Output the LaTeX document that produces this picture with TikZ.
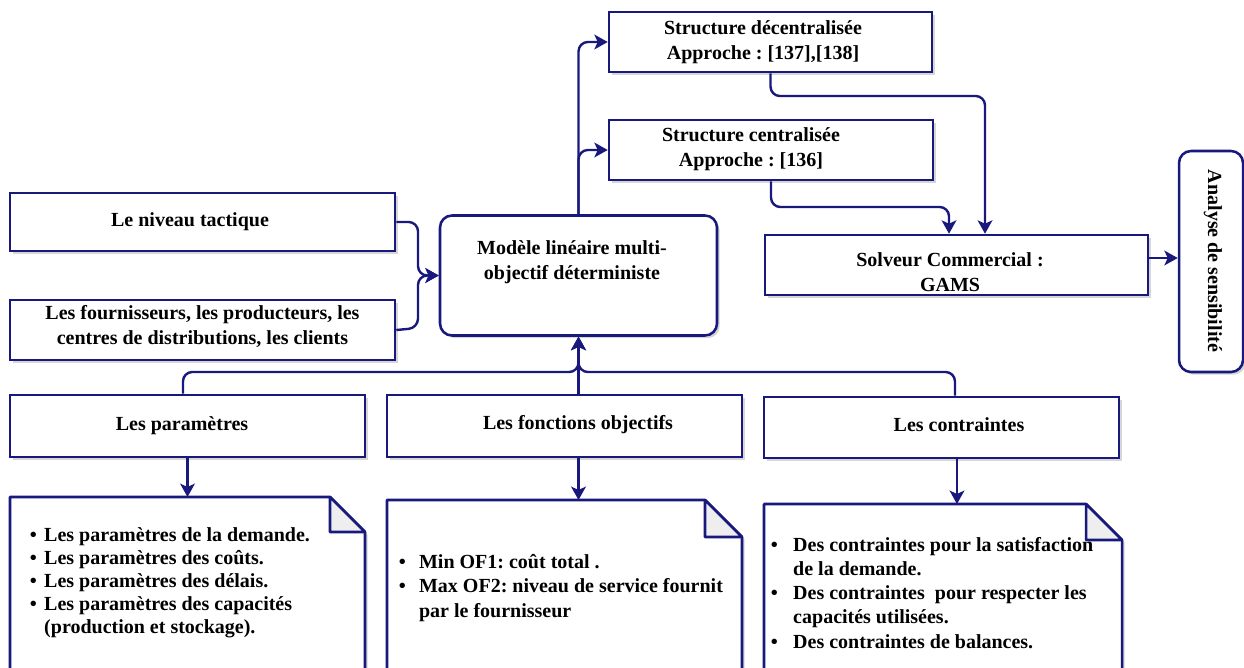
\documentclass[tikz,border=0pt]{standalone}
\usepackage{fontspec}
\setmainfont{Liberation Serif}
\frenchspacing
\usetikzlibrary{arrows.meta,shadows}
\definecolor{navy}{RGB}{25,25,125}
\definecolor{foldgray}{RGB}{238,238,238}

% folded note: #1 = left x, #2 = top y, #3 = width, #4 = fold size
\newcommand\foldednote[4]{%
  \fill[black,opacity=.16,xshift=2pt,yshift=-2pt]
    (#1,#2) -- ++({#3-#4},0) -- ++(#4,#4) -- ++(0,300) -- ++(-#3,0) -- cycle;
  \draw[navy,fill=white,line join=round]
    (#1,#2) -- ++({#3-#4},0) -- ++(#4,#4) -- ++(0,300) -- ++(-#3,0) -- cycle;
  \filldraw[navy,fill=foldgray,line join=round]
    ({#1+#3-#4},#2) -- ++(0,#4) -- ++(#4,0) -- cycle;
}

\begin{document}
\begin{tikzpicture}[x=0.75pt,y=-0.75pt,
  line width=1.9pt,
  every node/.style={font=\fontsize{15}{18.75}\selectfont\bfseries},
  shade/.style={drop shadow={shadow xshift=2pt,shadow yshift=-2pt,fill=black,opacity=0.16}},
  box/.style 2 args={draw=navy, fill=white, line width=1.9pt,
    minimum width=#1*0.75pt, minimum height=#2*0.75pt, inner sep=0pt,
    align=center, shade},
  caption/.style={align=center, inner sep=0pt},
  bullets/.style={anchor=west, inner sep=0pt, align=left},
  wire/.style={draw=navy, line width=1.8pt, rounded corners=7pt},
  link/.style={wire, -{Stealth[length=10pt,width=11pt,inset=2.5pt]}},
]
\useasboundingbox (0,0) rectangle (1244,667);
\clip (0,0) rectangle (1244,667);
\fill[white] (0,0) rectangle (1244,667);

% ---- left inputs and the model ----
\node[box={385}{58}] (tac) at (202.5,222) {};
\node[caption] at (190,222) {Le niveau tactique};
\node[box={385}{60}] (four) at (202.5,330) {};
\node[caption] at (202.5,327) {Les fournisseurs, les producteurs, les\\centres de distributions, les clients};

\node[box={277}{120}, rounded corners=9pt] (model) at (578.5,275.5) {};
\node[caption] at (572,262) {Modèle linéaire multi-\\objectif déterministe};

% ---- structures and solver ----
\node[box={323}{60}] (dec) at (770.5,42) {};
\node[caption] at (763,42) {Structure décentralisée\\Approche : [137],[138]};
\node[box={324}{60}] (cen) at (771,150) {};
\node[caption] at (751,149) {Structure centralisée\\Approche : [136]};

\node[box={383}{60}] (solv) at (956.5,265) {};
\node[caption] at (950,272) {Solveur Commercial :\\GAMS};

\node[box={64}{221}, rounded corners=9pt] (ana) at (1211,261.5) {};
\node[caption, rotate=-90] at (1213,261) {Analyse de sensibilité};

% ---- model components ----
\node[box={355}{62}] (par) at (187.5,426) {};
\node[caption] at (182,426) {Les paramètres};
\node[box={355}{62}] (fon) at (564.5,426) {};
\node[caption] at (578,425) {Les fonctions objectifs};
\node[box={355}{61}] (con) at (941.5,427.5) {};
\node[caption] at (959,425) {Les contraintes};

% ---- detail notes ----
\coordinate (n1) at (10,497);
\coordinate (n2) at (387,500);
\coordinate (n3) at (764,504);
\foldednote{10}{497}{355}{35}
\foldednote{387}{500}{355}{37}
\foldednote{764}{504}{358}{36}

\node[bullets] at (28.5,583) {\fontsize{15}{17.2}\selectfont
  \begin{tabular}{@{}l@{\hspace{5.6pt}}l@{}}
  \textbullet & Les paramètres de la demande.\\
  \textbullet & Les paramètres des coûts.\\
  \textbullet & Les paramètres des délais.\\
  \textbullet & Les paramètres des capacités\\
              & (production et stockage).
  \end{tabular}};
\node[bullets] at (397.5,588) {\fontsize{15}{18.4}\selectfont
  \begin{tabular}{@{}l@{\hspace{10pt}}l@{}}
  \textbullet & Min OF1: coût total .\\
  \textbullet & Max OF2: niveau de service fournit\\
              & par le fournisseur
  \end{tabular}};
\node[bullets] at (769.5,595) {\fontsize{15}{18.1}\selectfont
  \begin{tabular}{@{}l@{\hspace{11.6pt}}l@{}}
  \textbullet & Des contraintes pour la satisfaction\\
              & de la demande.\\
  \textbullet & Des contraintes~ pour respecter les\\
              & capacités utilisées.\\
  \textbullet & Des contraintes de balances.
  \end{tabular}};

% ---- connectors ----
\draw[link] (tac.east) -- (418,222) |- (model.west);
\draw[link] (four.east) -- (418,328) |- (model.west);

\draw[link] (model.north) |- (dec.west);
\draw[link] (model.north) |- (cen.west);

\coordinate (d1) at (985,96);
\draw[link] (dec.south) |- (d1) -- (d1 |- solv.north);
\coordinate (c1) at (949,207);
\draw[link] (cen.south) |- (c1) -- (c1 |- solv.north);

\coordinate (s1) at ([yshift=5.25pt]solv.east);
\draw[link] (s1) -- (s1 -| ana.west);

\coordinate (bus) at (578.5,372);
\draw[link] ([xshift=-3.4pt]par.north) |- (bus) -- (model.south);
\draw[link] (fon.north -| model.south) -- (model.south);
\draw[link] ([xshift=10.1pt]con.north) |- (bus) -- (model.south);

\draw[link] (par.south) -- (par.south |- n1);
\draw[link] (fon.south -| model.south) -- (model.south |- n2);
\coordinate (c3) at ([xshift=11.6pt]con.south);
\draw[link] (c3) -- (c3 |- n3);
\end{tikzpicture}
\end{document}
